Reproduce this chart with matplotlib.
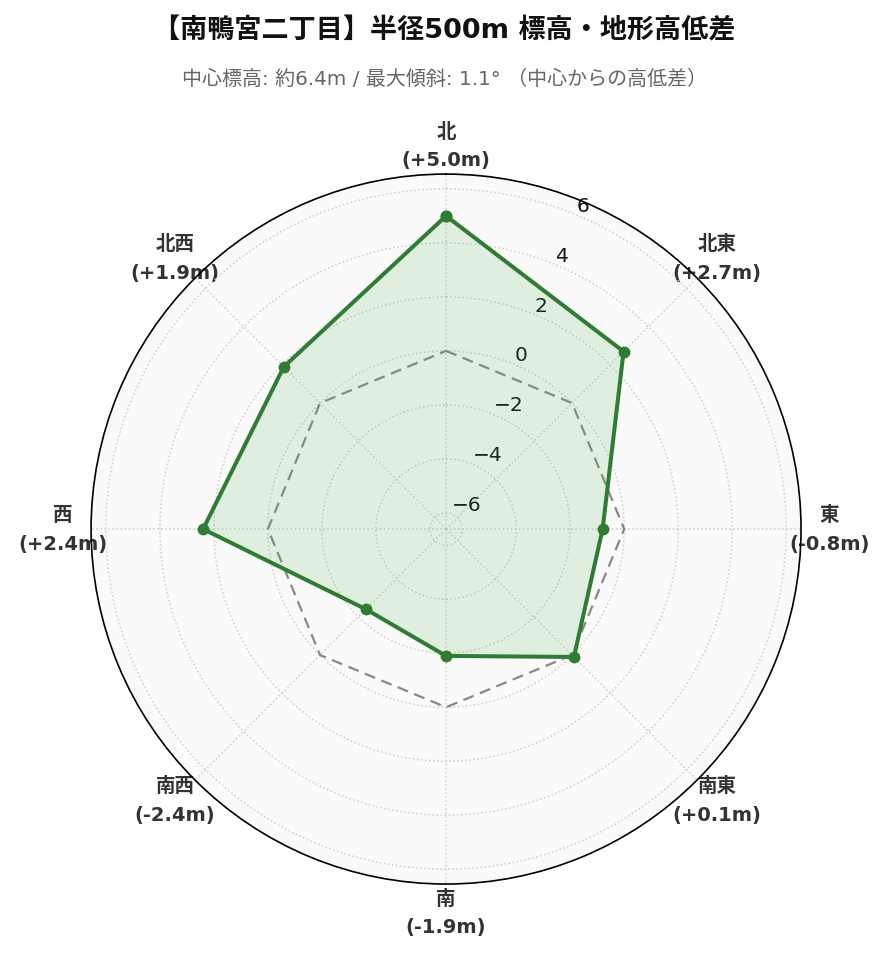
import numpy as np
import matplotlib
matplotlib.use("Agg")
import matplotlib.pyplot as plt

plt.rcParams['font.family'] = ['DejaVu Sans', 'Noto Sans CJK JP']

directions = ["北", "北東", "東", "南東", "南", "南西", "西", "北西"]
diffs = [5.0, 2.7, -0.8, 0.1, -1.9, -2.4, 2.4, 1.9]
rticks = [-6, -4, -2, 0, 2, 4, 6]
title = "【南鴨宮二丁目】半径500m 標高・地形高低差"
subtitle = "中心標高: 約6.4m / 最大傾斜: 1.1° （中心からの高低差）"

n = len(directions)
angles = np.linspace(0, 2 * np.pi, n, endpoint=False)
ang_c = np.concatenate([angles, angles[:1]])
vals_c = np.concatenate([diffs, diffs[:1]])

fig = plt.figure(figsize=(8.89, 9.62), dpi=100)
fig.patch.set_facecolor('white')
ax = fig.add_axes([0.1024, 0.080, 0.7987, 0.738], projection='polar')
ax.set_facecolor('#fafafa')
ax.set_theta_zero_location('N')
ax.set_theta_direction(-1)
ax.set_ylim(-6.6, 6.55)

ax.plot(ang_c, np.zeros_like(ang_c), color='#888888', linestyle='--', linewidth=1.6, dashes=(5, 3))
ax.fill(ang_c, vals_c, color='#4caf50', alpha=0.15, zorder=2)
ax.plot(ang_c, vals_c, color='#2e7d32', linewidth=2.9, marker='o', markersize=7.5, zorder=3)

ax.set_xticks(angles)
labels = [f"{d}\n({v:+.1f}m)" for d, v in zip(directions, diffs)]
ax.set_xticklabels(labels, fontsize=14, fontweight='bold', color='#333333', linespacing=1.65)
ax.tick_params(axis='x', pad=10)
ax.set_yticks(rticks)
ax.set_yticklabels([f"{t}".replace('-', '\u2212') for t in rticks], fontsize=14.5, color='#111111')
ax.set_rlabel_position(22.5)
ax.grid(True, color='#cccccc', linestyle=':', linewidth=1.1)
ax.spines['polar'].set_color('black')
ax.spines['polar'].set_linewidth(1.2)

fig.text(0.5, 0.967, title, ha='center', va='center', fontsize=19.5, fontweight='bold', color='#111111')
fig.text(0.5, 0.918, subtitle, ha='center', va='center', fontsize=14.4, color='#666666')

fig.savefig('out.png', dpi=100)
